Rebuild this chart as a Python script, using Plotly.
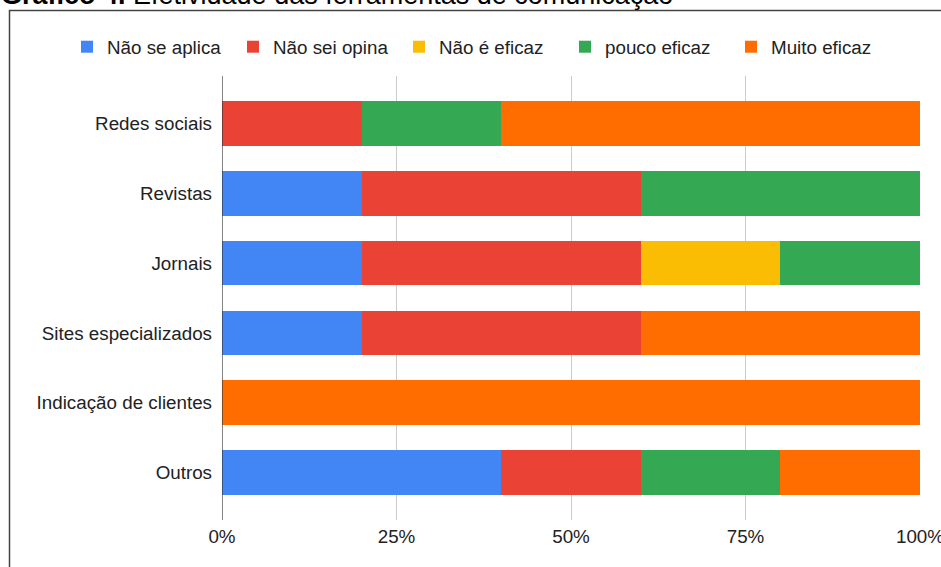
import plotly.graph_objects as go

# Ferramentas de comunicação avaliadas (de cima para baixo)
categorias = ["Redes sociais", "Revistas", "Jornais", "Sites especializados",
              "Indicação de clientes", "Outros"]

# Percentual de respostas por nível de efetividade
nao_se_aplica = [0, 20, 20, 20, 0, 40]
nao_sei_opina = [20, 40, 40, 40, 0, 20]
nao_e_eficaz = [0, 0, 20, 0, 0, 0]
pouco_eficaz = [20, 40, 20, 0, 0, 20]
muito_eficaz = [60, 0, 0, 40, 100, 20]

series = [
    ("Não se aplica", nao_se_aplica, "#4285F4"),
    ("Não sei opina", nao_sei_opina, "#EA4335"),
    ("Não é eficaz", nao_e_eficaz, "#FBBC04"),
    ("pouco eficaz", pouco_eficaz, "#34A853"),
    ("Muito eficaz", muito_eficaz, "#FF6D01"),
]

ticks_x = [0, 25, 50, 75, 100]
ticks_txt = ["0%", "25%", "50%", "75%", "100%"]

FONT = "Liberation Sans, Arial, sans-serif"
FS = 18.8

fig = go.Figure()
for nome, valores, cor in series:
    fig.add_trace(go.Bar(
        y=categorias, x=valores, name=nome, orientation="h",
        marker=dict(color=cor, line=dict(width=0)), width=0.64,
    ))

W, H = 941, 567
L, R, T, B = 222, 21, 76, 47
pw, ph = W - L - R, H - T - B


def px_x(p):
    return (p - L) / pw


def px_y(p):
    return (H - B - p) / ph


fig.update_layout(
    width=W, height=H,
    margin=dict(l=L, r=R, t=T, b=B, pad=0, autoexpand=False),
    barmode="stack",
    bargap=0.36,
    plot_bgcolor="white", paper_bgcolor="white",
    font=dict(family=FONT, size=FS, color="#222222"),
    showlegend=True,
    legend=dict(
        orientation="h", x=px_x(67), xanchor="left",
        y=px_y(47), yanchor="middle",
        font=dict(size=FS, color="#222222"),
        traceorder="normal", itemwidth=30,
        entrywidth=121, entrywidthmode="pixels",
        bgcolor="rgba(0,0,0,0)",
    ),
    xaxis=dict(
        range=[0, 100], tickvals=ticks_x, ticktext=ticks_txt,
        showgrid=True, gridcolor="#cccccc", gridwidth=1,
        zeroline=False, showline=False, ticks="", ticklabelstandoff=3,
        ticklabeloverflow="allow",
        tickfont=dict(size=FS, color="#222222"), automargin=False,
    ),
    yaxis=dict(
        categoryorder="array", categoryarray=categorias,
        range=[5.68, -0.68], showgrid=False, zeroline=False,
        ticks="", ticklabelstandoff=9, automargin=False,
        tickfont=dict(size=FS, color="#222222"),
    ),
    shapes=[
        # eixo em 0%
        dict(type="line", xref="x", yref="paper", x0=0, x1=0, y0=0, y1=1,
             line=dict(color="#333333", width=1.2)),
        # moldura do gráfico
        dict(type="rect", xref="paper", yref="paper",
             x0=px_x(9.5), x1=px_x(1000), y0=px_y(10.5), y1=px_y(700),
             line=dict(color="#444444", width=1.5), layer="above"),
    ],
    annotations=[
        dict(text="<b>Gráfico 4.</b> Efetividade das ferramentas de comunicação",
             xref="paper", yref="paper", x=px_x(-1), xanchor="left",
             y=px_y(12), yanchor="bottom", showarrow=False,
             font=dict(family=FONT, size=27, color="#000000")),
    ],
)

fig.write_html("out.html")
